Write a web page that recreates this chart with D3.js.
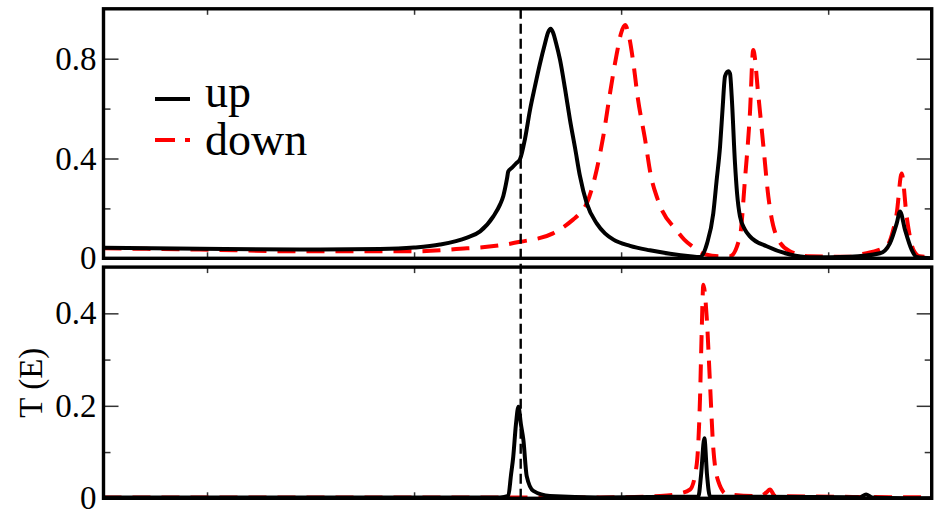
<!DOCTYPE html>
<html><head><meta charset="utf-8">
<script src="https://cdn.jsdelivr.net/npm/d3@7"></script>
<style>body{margin:0;background:#fff;}svg{display:block;}</style>
</head><body>
<svg id="c" width="939" height="509"></svg>
<script>
// ---- data ----
const upTopE   = [-2.0,-1.534,-1.051,-0.665,-0.500,-0.375,-0.244,-0.181,-0.117,-0.085,-0.069,-0.051,-0.045,-0.028,-0.008,0.012,0.036,0.060,0.084,0.108,0.132,0.147,0.160,0.171,0.185,0.205,0.229,0.253,0.278,0.301,0.334,0.382,0.422,0.463,0.543,0.639,0.736,0.833,0.881,0.915,0.945,0.961,0.978,0.990,1.002,1.018,1.026,1.034,1.050,1.060,1.074,1.098,1.122,1.203,1.315,1.412,1.605,1.750,1.798,1.831,1.847,1.871,1.903,1.927,2.0];
const upTopT   = [0.042,0.038,0.035,0.037,0.043,0.055,0.083,0.108,0.168,0.215,0.25,0.32,0.348,0.362,0.38,0.398,0.48,0.595,0.69,0.78,0.86,0.905,0.92,0.905,0.865,0.795,0.68,0.555,0.44,0.33,0.22,0.14,0.1,0.075,0.05,0.032,0.018,0.008,0.005,0.06,0.18,0.31,0.45,0.6,0.73,0.75,0.74,0.65,0.38,0.26,0.168,0.115,0.088,0.048,0.015,0.004,0.006,0.02,0.06,0.14,0.188,0.115,0.035,0.005,0.0];
const downTopE = [-2.0,-1.534,-1.051,-0.500,-0.244,-0.181,0.012,0.171,0.268,0.301,0.334,0.359,0.382,0.414,0.446,0.479,0.499,0.519,0.538,0.557,0.581,0.615,0.644,0.675,0.699,0.765,0.805,0.843,0.908,0.978,1.026,1.074,1.098,1.122,1.138,1.163,1.187,1.211,1.251,1.315,1.412,1.605,1.653,1.782,1.813,1.831,1.855,1.879,1.911,1.943,2.0];
const downTopT = [0.04,0.035,0.028,0.028,0.04,0.043,0.066,0.1,0.155,0.18,0.22,0.28,0.355,0.49,0.66,0.82,0.9,0.935,0.89,0.795,0.64,0.48,0.33,0.24,0.19,0.115,0.075,0.048,0.015,0.008,0.008,0.088,0.315,0.58,0.835,0.65,0.45,0.248,0.088,0.028,0.008,0.006,0.015,0.048,0.11,0.18,0.34,0.168,0.035,0.008,0.005];
const upBotE   = [-2.0,-0.085,-0.045,-0.032,-0.021,-0.008,0.004,0.016,0.028,0.044,0.076,0.156,0.398,0.873,0.886,0.902,0.915,0.929,1.653,1.683,1.712,2.0];
const upBotT   = [0.002,0.002,0.005,0.05,0.09,0.16,0.198,0.16,0.126,0.048,0.016,0.005,0.002,0.004,0.05,0.13,0.05,0.004,0.002,0.008,0.002,0.0];
const downBotE = [-2.0,0.398,0.688,0.768,0.833,0.865,0.881,0.889,0.897,0.913,0.929,0.945,0.969,1.010,1.171,1.200,1.219,1.243,2.0];
const downBotT = [0.002,0.002,0.005,0.009,0.019,0.073,0.216,0.358,0.462,0.394,0.251,0.109,0.037,0.009,0.005,0.012,0.019,0.005,0.002];
const fermiE = 0.015;
const xTicks = [-1.5,-0.5,0.5,1.5];
const yTopMajor = [0,0.4,0.8], yTopMinor = [0.2,0.6];
const yBotMajor = [0,0.2,0.4], yBotMinor = [0.1,0.3];
const legendLabels = ["up","down"];
const yLabel = "T (E)";

// ---- layout ----
const L = 103.5, R = 931.7;
const T1 = 8.8, B1 = 258.3, T2 = 267.1, B2 = 498.3;
const svg = d3.select("#c");
const font = 'Liberation Serif';

const x = d3.scaleLinear().domain([-2,2]).range([L,R]);
const y1 = d3.scaleLinear().domain([0,1]).range([B1,T1]);
const y2 = d3.scaleLinear().domain([0,0.5]).range([B2,T2]);

const defs = svg.append("defs");
defs.append("clipPath").attr("id","cp1").append("rect").attr("x",L).attr("y",T1).attr("width",R-L).attr("height",B1-T1);
defs.append("clipPath").attr("id","cp2").append("rect").attr("x",L).attr("y",T2).attr("width",R-L).attr("height",B2-T2);

function axes(y, top, bottom, major, minor){
  const fmt = d => d===0 ? "0" : d3.format(".1f")(d);
  const styleAxis = g => {
    g.attr("font-family",font).attr("font-size",33);
    g.select(".domain").remove();
    g.selectAll("line").attr("stroke","#333").attr("stroke-width",1.5);
    g.selectAll("text").attr("font-family",font).attr("font-size",33).attr("fill","#000");
  };
  svg.append("g").attr("transform",`translate(${L},0)`)
    .call(d3.axisLeft(y).tickValues(major).tickSizeInner(-15).tickSizeOuter(0).tickPadding(7).tickFormat(fmt)).call(styleAxis);
  svg.append("g").attr("transform",`translate(${L},0)`)
    .call(d3.axisLeft(y).tickValues(minor).tickSizeInner(-7).tickSizeOuter(0).tickFormat("")).call(styleAxis);
  svg.append("g").attr("transform",`translate(${R},0)`)
    .call(d3.axisRight(y).tickValues(major).tickSizeInner(-15).tickSizeOuter(0).tickFormat("")).call(styleAxis);
  svg.append("g").attr("transform",`translate(${R},0)`)
    .call(d3.axisRight(y).tickValues(minor).tickSizeInner(-7).tickSizeOuter(0).tickFormat("")).call(styleAxis);
  svg.append("g").attr("transform",`translate(0,${top})`)
    .call(d3.axisTop(x).tickValues(xTicks).tickSizeInner(-6).tickSizeOuter(0).tickFormat("")).call(styleAxis);
  svg.append("g").attr("transform",`translate(0,${bottom})`)
    .call(d3.axisBottom(x).tickValues(xTicks).tickSizeInner(-6).tickSizeOuter(0).tickFormat("")).call(styleAxis);
}
axes(y1,T1,B1,yTopMajor,yTopMinor);
axes(y2,T2,B2,yBotMajor,yBotMinor);

function curve(E,Tv,y,clip,color,dash){
  const data = E.map((e,i)=>[e,Tv[i]]);
  svg.append("path").datum(data)
    .attr("clip-path",`url(#${clip})`)
    .attr("fill","none").attr("stroke",color).attr("stroke-width",4)
    .attr("stroke-linejoin","round")
    .attr("stroke-dasharray",dash||null)
    .attr("d",d3.line().x(d=>x(d[0])).y(d=>y(d[1])).curve(d3.curveMonotoneX));
}
curve(downTopE,downTopT,y1,"cp1","#ff0000","18,11");
curve(upTopE,upTopT,y1,"cp1","#000");
curve(downBotE,downBotT,y2,"cp2","#ff0000","18,11");
curve(upBotE,upBotT,y2,"cp2","#000");

// Fermi line
svg.append("line").attr("x1",x(fermiE)).attr("x2",x(fermiE)).attr("y1",T1).attr("y2",B2)
  .attr("stroke","#000").attr("stroke-width",2.4).attr("stroke-dasharray","10,5");

// frames
[[T1,B1],[T2,B2]].forEach(([t,b])=>{
  svg.append("rect").attr("x",L).attr("y",t).attr("width",R-L).attr("height",b-t)
    .attr("fill","none").attr("stroke","#000").attr("stroke-width",3.4);
});

// legend
const lg = svg.append("g");
lg.append("line").attr("x1",155).attr("x2",190).attr("y1",99).attr("y2",99).attr("stroke","#000").attr("stroke-width",4);
lg.append("line").attr("x1",155).attr("x2",190).attr("y1",140).attr("y2",140).attr("stroke","#ff0000").attr("stroke-width",4).attr("stroke-dasharray","20,10");
lg.selectAll("text").data(legendLabels).join("text")
  .attr("x",205).attr("y",(d,i)=>i===0?107:155)
  .attr("font-family",font).attr("font-size",46).attr("fill","#000").text(d=>d);

// y label
svg.append("text").attr("transform",`translate(42,${(T2+B2)/2}) rotate(-90)`)
  .attr("text-anchor","middle").attr("font-family",font).attr("font-size",33).text(yLabel);
</script>
</body></html>
